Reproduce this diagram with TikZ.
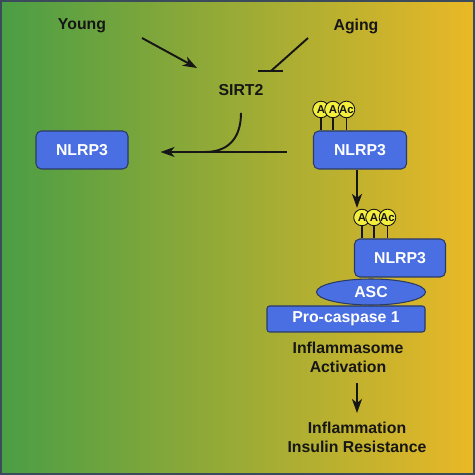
\documentclass[tikz,border=0pt]{standalone}
\usepackage{fontspec}
\setmainfont{Liberation Sans}
\usetikzlibrary{arrows.meta,calc,positioning,shapes.geometric}
\definecolor{youngcolor}{HTML}{4A9E45}
\definecolor{midcolor}{HTML}{A3B03C}
\definecolor{agingcolor}{HTML}{EAB826}
\definecolor{framecolor}{HTML}{3B4B5C}
\definecolor{proteincolor}{HTML}{4A6FE3}
\definecolor{proteinedge}{HTML}{2B3A66}
\definecolor{acetylcolor}{HTML}{F4EE3C}
\definecolor{inkcolor}{HTML}{161616}
\tikzset{
  protein/.style={
    draw=proteinedge,
    fill=proteincolor,
    rounded corners=#1,
    line width=0.6pt,
    inner sep=0pt,
    text=white,
    font=\bfseries\fontsize{9}{10.8}\selectfont
  },
  protein/.default=3pt,
  term/.style={text=inkcolor, font=\bfseries\fontsize{9}{10.8}\selectfont, align=center},
  wire/.style={
    draw=inkcolor,
    line width=1.1pt,
    -{Stealth[length=2.8mm,width=2mm,inset=0.8mm]}
  },
  block/.style={draw=inkcolor, line width=1.1pt},
  acetyl/.style={
    circle,
    draw=inkcolor,
    fill=acetylcolor,
    line width=0.5pt,
    minimum size=0.33cm,
    inner sep=0pt,
    text=inkcolor,
    font=\bfseries\fontsize{6.5}{7}\selectfont
  },
  stem/.style={draw=inkcolor, line width=0.6pt}
}

\begin{document}
\begin{tikzpicture}
  \path[use as bounding box] (0,0) rectangle (9.5,9.5);
  \shade[left color=youngcolor, middle color=midcolor, right color=agingcolor]
    (0,0) rectangle (9.5,9.5);
  \draw[framecolor, line width=1.1pt] (0.02,0.02) rectangle (9.48,9.48);

  \node[term] (young) at (1.64,8.98) {Young};
  \node[term] (aging) at (7.12,8.98) {Aging};
  \node[term] (sirt) at (4.82,7.70) {SIRT2};

  \node[protein, minimum width=1.84cm, minimum height=0.76cm] (nlrp) at (1.64,6.50) {NLRP3};
  \node[protein, minimum width=1.86cm, minimum height=0.76cm] (acnlrp) at (7.20,6.50) {NLRP3};

  \node[protein, minimum width=1.82cm, minimum height=0.76cm] (nlrpsome) at (8.00,4.34) {NLRP3};
  \node[protein=1.5pt, minimum width=3.16cm, minimum height=0.52cm] (procasp) at (6.92,3.12) {Pro-caspase 1};
  \node[protein, ellipse, minimum width=2.18cm, minimum height=0.52cm] (asc) at (7.42,3.66) {ASC};

  \node[term] (activation) at (6.96,2.35) {Inflammasome\\Activation};
  \node[term] (outcome) at (7.14,0.75) {Inflammation\\Insulin Resistance};

  % acetyl groups on both NLRP3
  \foreach \prot/\tag in {acnlrp/a, nlrpsome/b}
    \foreach \dx/\txt [count=\i] in {0.16/A, 0.40/A, 0.67/Ac} {
      \draw[stem] ($(\prot.north west)+(\dx,0)$) -- ++(0,0.42);
      \node[acetyl] (\tag\i) at ($(\prot.north west)+(\dx,0.42)$) {\txt};
    }

  \coordinate (youngtail) at (2.84,8.74);
  \coordinate (younghead) at (3.94,8.14);
  \draw[wire] (youngtail) -- (younghead);

  \coordinate (agingtail) at (6.16,8.74);
  \coordinate (agingbar) at (5.42,8.08);
  \draw[block] (agingtail) -- (agingbar);
  \draw[block] ($(agingbar)+(-0.26,0)$) -- ($(agingbar)+(0.24,0)$);

  \draw[wire] ([xshift=-0.52cm,yshift=-0.04cm]acnlrp.west)
    -- ([xshift=0.64cm,yshift=-0.04cm]nlrp.east);
  \coordinate (sirtjoin) at (4.10,6.46);
  \draw[block] ([yshift=-0.22cm]sirt.south) .. controls (4.82,6.72) and (4.55,6.46) .. (sirtjoin);

  \draw[wire, shorten >=0.5pt] ([xshift=-0.06cm]acnlrp.south) -- ([xshift=-0.06cm]acnlrp.south |- b1.north);
  \draw[wire] ([yshift=-0.08cm]activation.south -| outcome.north) -- ([yshift=0.06cm]outcome.north);
\end{tikzpicture}
\end{document}
